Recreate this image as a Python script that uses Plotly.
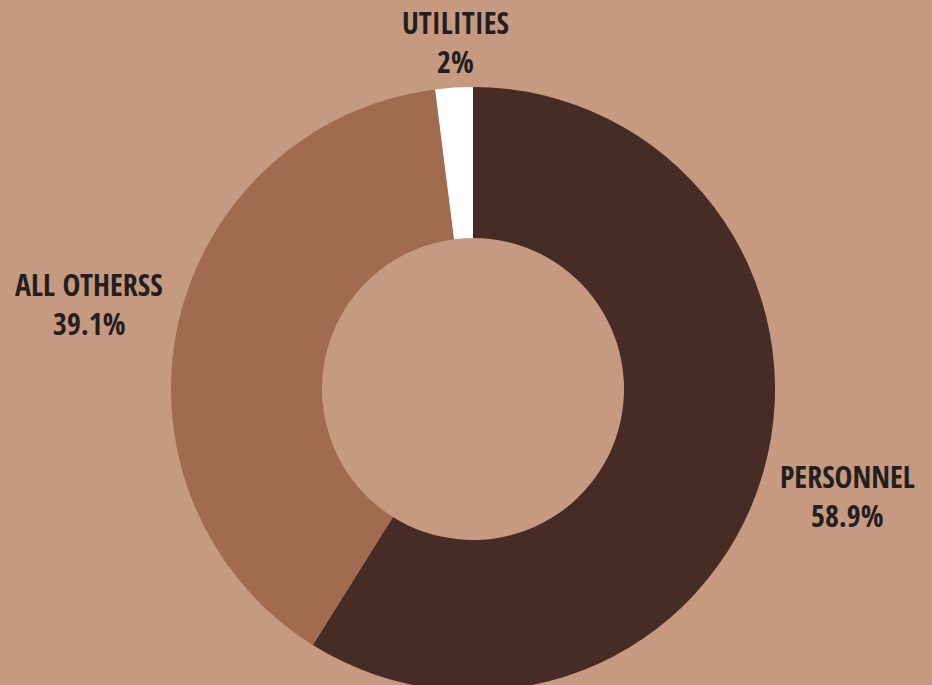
import plotly.graph_objects as go

labels = ["PERSONNEL", "ALL OTHERSS", "UTILITIES"]
values = [58.9, 39.1, 2]
pct_text = ["58.9%", "39.1%", "2%"]
colors = ["#472B25", "#A16B50", "#FFFFFF"]
bg = "#C69A80"

W, H = 932, 700
cx, cy, r = 473, 389, 302

fig = go.Figure(go.Pie(
    labels=labels, values=values, sort=False, direction="clockwise", rotation=0,
    hole=0.5, marker=dict(colors=colors, line=dict(width=0)),
    textinfo="none", hoverinfo="label+percent", showlegend=False,
    domain=dict(x=[(cx - r) / W, (cx + r) / W], y=[1 - (cy + r) / H, 1 - (cy - r) / H]),
))

# label anchor positions (pixels, from top-left)
label_pos = [(847, 476), (89, 284), (455, 23)]
font = dict(family="Open Sans Condensed, Roboto Condensed, sans-serif", size=30, color="#231F20", weight="bold")
for (x, y), lab, pct in zip(label_pos, labels, pct_text):
    fig.add_annotation(x=x / W, y=1 - y / H, xref="paper", yref="paper", text=lab,
                       showarrow=False, font=font, xanchor="center", yanchor="middle")
    fig.add_annotation(x=x / W, y=1 - (y + 39) / H, xref="paper", yref="paper", text=pct,
                       showarrow=False, font=font, xanchor="center", yanchor="middle")

fig.update_layout(width=W, height=H, margin=dict(l=0, r=0, t=0, b=0),
                  paper_bgcolor=bg, plot_bgcolor=bg)
fig.write_html("out.html", config={"displayModeBar": False},
               post_script="document.body.style.margin='0';document.body.style.overflow='hidden';"
                           "document.body.style.background='%s';" % bg)
